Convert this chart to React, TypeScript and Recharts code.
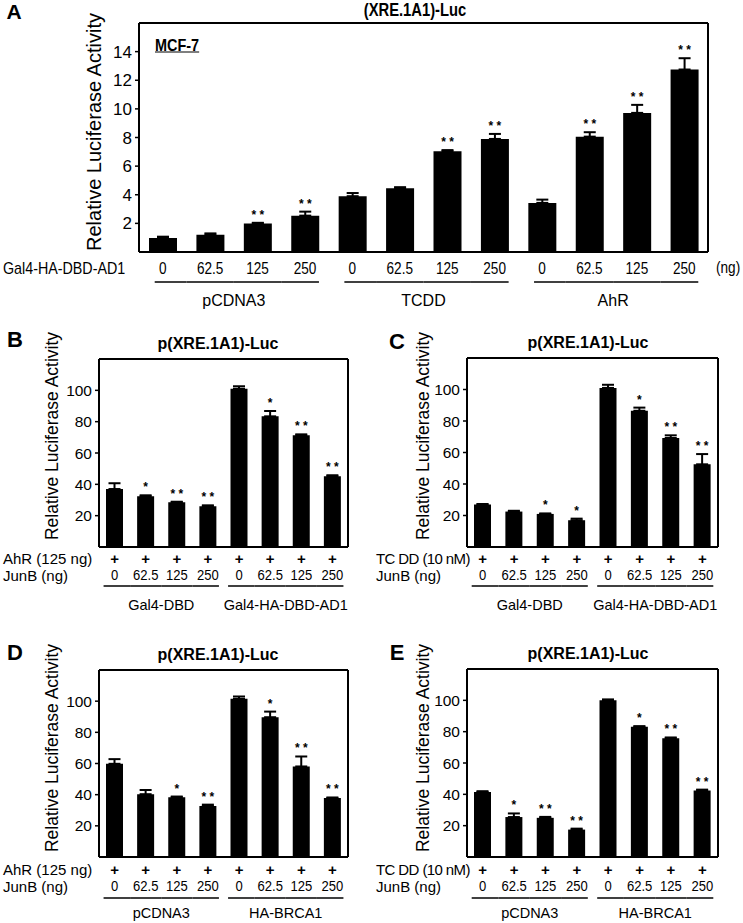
import React from 'react';
import { BarChart, Bar, XAxis, YAxis, ErrorBar, LabelList, CartesianGrid } from 'recharts';

const FONT = '"Liberation Sans", Arial, Helvetica, sans-serif';

// ---------- Panel A ----------
const aGroups = ['pCDNA3', 'TCDD', 'AhR'];
const aDoses = ['0', '62.5', '125', '250'];
const aValues = [0.98, 1.21, 2.0, 2.54, 3.9, 4.45, 7.04, 7.9, 3.43, 8.06, 9.72, 12.75];
const aErrors = [0.09, 0.09, 0.04, 0.28, 0.22, 0.08, 0.08, 0.35, 0.23, 0.31, 0.56, 0.79];
const aSig = [0, 0, 2, 2, 0, 0, 2, 2, 0, 2, 2, 2];
const aYTicks = [2, 4, 6, 8, 10, 12, 14];

// ---------- Panels B-E ----------
const junbDoses = ['0', '62.5', '125', '250'];
const pctTicks = [20, 40, 60, 80, 100];

const bGroups = ['Gal4-DBD', 'Gal4-HA-DBD-AD1'];
const bValues = [37, 32.4, 28.6, 26, 101, 83.4, 71.3, 45.2];
const bErrors = [3.7, 0.6, 0.3, 0.6, 1.6, 3.4, 0.6, 0.6];
const bSig = [0, 1, 2, 2, 0, 1, 2, 2];

const cGroups = ['Gal4-DBD', 'Gal4-HA-DBD-AD1'];
const cValues = [27, 22.5, 21, 17, 101, 86.5, 69.2, 52.5];
const cErrors = [0.3, 0.5, 0.3, 1.0, 2.0, 2.0, 1.7, 6.5];
const cSig = [0, 0, 1, 1, 0, 1, 2, 2];

const dGroups = ['pCDNA3', 'HA-BRCA1'];
const dValues = [59.8, 40.3, 38.4, 32.8, 101.5, 89.7, 58.1, 37.8];
const dErrors = [3.0, 2.7, 0.4, 0.8, 1.5, 3.6, 6.4, 0.4];
const dSig = [0, 0, 1, 2, 0, 1, 2, 2];

const eGroups = ['pCDNA3', 'HA-BRCA1'];
const eValues = [41.5, 25.5, 25, 17.5, 100, 83.2, 75.8, 42.5];
const eErrors = [0.5, 2.3, 0.6, 0.6, 0.6, 0.3, 0.5, 0.5];
const eSig = [0, 1, 2, 2, 0, 1, 2, 2];

const title = 'p(XRE.1A1)-Luc';
const titleA = '(XRE.1A1)-Luc';
const yLabel = 'Relative Luciferase Activity';
const ahrRow = 'AhR (125 ng)';
const tcddRow = 'TC DD (10 nM)';
const junbRow = 'JunB (ng)';

type Row = { id: string; group: string; dose: string; value: number; e: number; errRange: number[]; sig: number };

function buildRows(groups: string[], doses: string[], values: number[], errors: number[], sig: number[]): Row[] {
  const rows: Row[] = [];
  groups.forEach((g, gi) => {
    doses.forEach((d, di) => {
      const i = gi * doses.length + di;
      rows.push({ id: `${g}|${d}|${i}`, group: g, dose: d, value: values[i], e: errors[i], errRange: [0, errors[i]], sig: sig[i] });
    });
  });
  return rows;
}

type Cfg = {
  left: number; top: number; width: number; height: number;
  margin: { top: number; right: number; bottom: number; left: number };
  yAxisWidth: number; xAxisHeight: number;
  rows: Row[]; perGroup: number; domain: [number, number]; ticks: number[];
  barSize: number; yTickFont: number; yTickFamily: string;
  showPlus: boolean; plusDy: number; doseDy: number; lineDy: number; groupDy: number;
  doseFont: number; doseFamily: string; doseScaleX?: number; groupFont: number; groupFamily: string;
  trimL: number; trimR: number;
};

function Panel(p: Cfg) {
  const n = p.rows.length;
  const plotW = p.width - p.margin.left - p.yAxisWidth - p.margin.right;
  const bw = plotW / n;
  const sx = p.doseScaleX ?? 1;
  const Tick = (props: any) => {
    const { x, y, index } = props;
    const r = p.rows[index];
    if (!r) return null;
    const pos = index % p.perGroup;
    const x1 = pos === 0 ? x - p.trimL : x - bw / 2;
    const x2 = pos === p.perGroup - 1 ? x + p.trimR : x + bw / 2;
    return (
      <g>
        {p.showPlus && (
          <text x={x} y={y + p.plusDy} textAnchor="middle" dominantBaseline="central" fontSize={15} fontWeight="bold" fontFamily={FONT} fill="#000">+</text>
        )}
        <text transform={`translate(${x},${y + p.doseDy}) scale(${sx},1)`} x={0} y={0} textAnchor="middle" dominantBaseline="central"
          fontSize={p.doseFont} fontFamily={p.doseFamily} fill="#000">{r.dose}</text>
        <line x1={x1} x2={x2} y1={y + p.lineDy} y2={y + p.lineDy} stroke="#000" strokeWidth={1.5} />
        {pos === p.perGroup / 2 - 1 && (
          <text x={x + bw / 2} y={y + p.groupDy} textAnchor="middle" dominantBaseline="central" fontSize={p.groupFont} fontFamily={p.groupFamily} fill="#000">{r.group}</text>
        )}
      </g>
    );
  };
  const Star = (props: any) => {
    const { x, y, width, height, index } = props;
    const r = p.rows[index];
    if (!r || !r.sig) return null;
    const scale = height / r.value;
    const top = y - r.e * scale;
    return (
      <text x={x + width / 2} y={top - 4} textAnchor="middle" fontSize={12} fontWeight="bold" fontFamily={FONT} fill="#000">
        {r.sig === 2 ? '* *' : '*'}
      </text>
    );
  };
  const line = { stroke: '#000', strokeWidth: 2 };
  return (
    <div style={{ position: 'absolute', left: p.left, top: p.top }}>
      <BarChart width={p.width} height={p.height} data={p.rows} margin={p.margin} barCategoryGap={0}>
        <CartesianGrid stroke="#000" strokeWidth={2}
          horizontalCoordinatesGenerator={({ offset }: any) => [offset.top, offset.top + offset.height]}
          verticalCoordinatesGenerator={({ offset }: any) => [offset.left, offset.left + offset.width]} />
        <XAxis dataKey="id" height={p.xAxisHeight} tickLine={false} tickSize={0} tickMargin={0} interval={0}
          axisLine={line} tick={<Tick />} />
        <YAxis width={p.yAxisWidth} domain={p.domain} ticks={p.ticks} allowDataOverflow
          tick={{ fill: '#000', fontSize: p.yTickFont, fontFamily: p.yTickFamily }}
          tickSize={4} tickMargin={3} tickLine={{ stroke: '#000', strokeWidth: 1.5 }}
          axisLine={line} />
        <Bar dataKey="value" fill="#000" barSize={p.barSize} isAnimationActive={false}>
          <ErrorBar dataKey="errRange" direction="y" width={6} stroke="#000" strokeWidth={2} />
          <LabelList dataKey="value" content={<Star />} />
        </Bar>
      </BarChart>
    </div>
  );
}

const T = ({ x, y, children, anchor = 'start', size = 15, weight = 'normal', family = FONT, style = {} }: any) => (
  <div style={{
    position: 'absolute', left: x, top: y,
    transform: `translate(${anchor === 'middle' ? '-50%' : anchor === 'end' ? '-100%' : '0'}, -50%)`,
    fontSize: size, fontWeight: weight, fontFamily: family, whiteSpace: 'nowrap', lineHeight: 1, color: '#000', ...style,
  }}>{children}</div>
);

const YL = ({ x, y, size = 17.5 }: any) => (
  <div style={{
    position: 'absolute', left: x, top: y, transform: 'translate(-50%, -50%) rotate(-90deg)',
    fontSize: size, fontFamily: FONT, whiteSpace: 'nowrap', lineHeight: 1, color: '#000',
  }}>{yLabel}</div>
);

export default function App() {
  const aRows = buildRows(aGroups, aDoses, aValues, aErrors, aSig);
  const bRows = buildRows(bGroups, junbDoses, bValues, bErrors, bSig);
  const cRows = buildRows(cGroups, junbDoses, cValues, cErrors, cSig);
  const dRows = buildRows(dGroups, junbDoses, dValues, dErrors, dSig);
  const eRows = buildRows(eGroups, junbDoses, eValues, eErrors, eSig);

  const common = {
    perGroup: 4, domain: [0, 120] as [number, number], ticks: pctTicks, barSize: 17,
    yTickFont: 15.5, yTickFamily: FONT, showPlus: true, plusDy: 11, doseDy: 28,
    doseFont: 14.5, doseFamily: FONT, doseScaleX: 0.9, groupFont: 14.5, groupFamily: FONT, trimL: 11, trimR: 11,
    yAxisWidth: 40,
  };

  return (
    <div style={{ position: 'absolute', left: 0, top: 0, width: 743, height: 923, background: '#fff', overflow: 'hidden' }}>
      <Panel
        left={0} top={0} width={743} height={310}
        margin={{ top: 23, right: 35, bottom: 0, left: 99 }} yAxisWidth={40} xAxisHeight={58}
        rows={aRows} perGroup={4} domain={[0, 16]} ticks={aYTicks} barSize={28}
        yTickFont={17} yTickFamily={FONT} showPlus={false} plusDy={0} doseDy={16} lineDy={30} groupDy={48}
        doseFont={17} doseFamily={FONT} doseScaleX={0.8} groupFont={16} groupFamily={FONT} trimL={8} trimR={14}
      />
      <Panel {...common} left={0} top={320} width={370} height={300}
        margin={{ top: 39, right: 22, bottom: 0, left: 59 }} xAxisHeight={73} rows={bRows} groupDy={58} lineDy={39} />
      <Panel {...common} left={370} top={320} width={373} height={300}
        margin={{ top: 38, right: 25, bottom: 0, left: 57 }} xAxisHeight={73} rows={cRows} groupDy={58} lineDy={39} />
      <Panel {...common} left={0} top={630} width={370} height={293}
        margin={{ top: 40, right: 22, bottom: 0, left: 59 }} xAxisHeight={66} rows={dRows} groupDy={56} lineDy={41} plusDy={12} doseDy={29} />
      <Panel {...common} left={370} top={630} width={373} height={293}
        margin={{ top: 39, right: 25, bottom: 0, left: 57 }} xAxisHeight={66} rows={eRows} groupDy={56} lineDy={41} plusDy={12} doseDy={29} />

      {/* Panel A overlays */}
      <T x={14} y={11} anchor="middle" size={21} weight="bold">A</T>
      <T x={415} y={10} anchor="middle" size={18} weight="bold" style={{ transform: 'translate(-50%, -50%) scaleX(0.82)' }}>{titleA}</T>
      <T x={155} y={45} size={17} weight="bold" style={{ textDecoration: 'underline', transform: 'translate(0, -50%) scaleX(0.85)', transformOrigin: 'left center' }}>MCF-7</T>
      <YL x={94} y={132} size={20} />
      <T x={3} y={268} size={17} style={{ transform: 'translate(0, -50%) scaleX(0.84)', transformOrigin: 'left center' }}>Gal4-HA-DBD-AD1</T>
      <T x={716} y={268} size={16} style={{ transform: 'translate(0, -50%) scaleX(0.85)', transformOrigin: 'left center' }}>(ng)</T>

      {/* Panel B */}
      <T x={15} y={340} anchor="middle" size={22} weight="bold">B</T>
      <T x={218} y={344} anchor="middle" size={16} weight="bold">{title}</T>
      <YL x={53} y={436} />
      <T x={3} y={558} size={15}>{ahrRow}</T>
      <T x={3} y={575} size={15}>{junbRow}</T>

      {/* Panel C */}
      <T x={397} y={342} anchor="middle" size={22} weight="bold">C</T>
      <T x={588} y={343} anchor="middle" size={16} weight="bold">{title}</T>
      <YL x={424} y={436} />
      <T x={376} y={558} size={15} style={{ letterSpacing: -0.6 }}>{tcddRow}</T>
      <T x={376} y={575} size={15}>{junbRow}</T>

      {/* Panel D */}
      <T x={15} y={653} anchor="middle" size={22} weight="bold">D</T>
      <T x={218} y={655} anchor="middle" size={16} weight="bold">{title}</T>
      <YL x={53} y={748} />
      <T x={3} y={869} size={15}>{ahrRow}</T>
      <T x={3} y={886} size={15}>{junbRow}</T>

      {/* Panel E */}
      <T x={397} y={653} anchor="middle" size={22} weight="bold">E</T>
      <T x={588} y={654} anchor="middle" size={16} weight="bold">{title}</T>
      <YL x={424} y={748} />
      <T x={376} y={869} size={15} style={{ letterSpacing: -0.6 }}>{tcddRow}</T>
      <T x={376} y={886} size={15}>{junbRow}</T>
    </div>
  );
}
